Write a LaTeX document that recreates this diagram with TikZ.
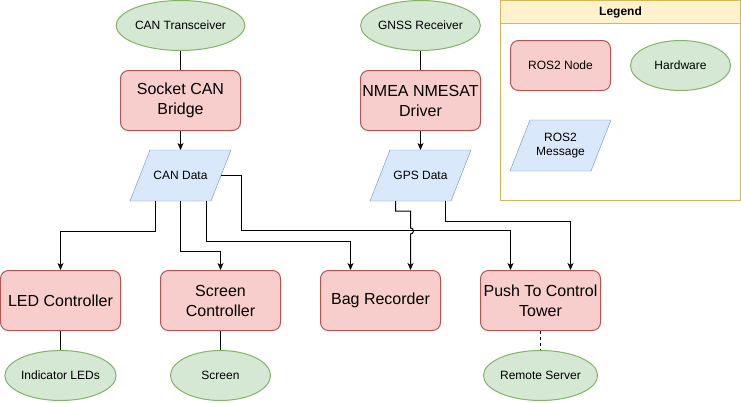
\documentclass[tikz,border=0pt]{standalone}
\usepackage{fontspec}
\setmainfont{Liberation Sans}
\usetikzlibrary{positioning,arrows.meta,backgrounds,shapes.geometric}

\definecolor{nodefill}{HTML}{F8CECC}
\definecolor{nodeline}{HTML}{B85450}
\definecolor{hwfill}{HTML}{D5E8D4}
\definecolor{hwline}{HTML}{82B366}
\definecolor{msgfill}{HTML}{DAE8FC}
\definecolor{msgline}{HTML}{6C8EBF}
\definecolor{legfill}{HTML}{FFF2CC}
\definecolor{legline}{HTML}{D6B656}

\begin{document}
\begin{tikzpicture}[
x=1pt,y=-1pt,
line width=1pt,
rosnode/.style={
  draw=nodeline,
  fill=nodefill,
  rounded corners=8pt,
  minimum width=120pt,
  minimum height=60pt,
  align=center,
  inner sep=1pt,
  font=\fontsize{16}{20}\selectfont
  },
hwnode/.style={
  draw=hwline,
  fill=hwfill,
  ellipse,
  minimum width=100pt,
  minimum height=50pt,
  inner sep=0pt,
  font=\fontsize{12}{14}\selectfont
  },
msgnode/.style={
  minimum width=80pt,
  minimum height=50pt,
  inner sep=0pt,
  align=center,
  font=\fontsize{12}{14}\selectfont
  },
msgshape/.style={
  draw=msgline,
  fill=msgfill
  },
link/.style={-{Stealth[length=7pt,width=6pt,inset=2pt]}}
]
\useasboundingbox (-0.5,-0.5) rectangle (740.5,401.5);
% legend
\draw[legline] (500,0) rectangle (740,200);
\draw[legline,fill=legfill] (500,0) rectangle (740,23);
\node[font=\fontsize{12}{14}\selectfont\bfseries] (legend) at (620,11.5) {Legend};
\node[rosnode,minimum width=100pt,minimum height=50pt,font=\fontsize{12}{14}\selectfont] (lnode) at (560,65) {ROS2 Node};
\node[hwnode] (lhw) at (680,65) {Hardware};
\node[msgnode] (lmsg) at (560,145) {ROS2\\Message};
% top row
\node[hwnode] (cant) at (180,25) {CAN Transceiver};
\node[hwnode] (gnss) at (420,25) {GNSS Receiver};
\node[rosnode] (scb) at (180,100) {Socket CAN\\Bridge};
\node[rosnode] (nmea) at (420,100) {NMEA NMESAT\\Driver};
\node[msgnode] (cdata) at (180,175) {CAN Data};
\node[msgnode] (gdata) at (420,175) {GPS Data};
% bottom row
\node[rosnode] (led) at (60,300) {LED Controller};
\node[rosnode] (scr) at (220,300) {Screen\\Controller};
\node[rosnode] (bag) at (380,300) {Bag Recorder};
\node[rosnode] (push) at (540,300) {Push To Control\\Tower};
\node[hwnode] (leds) at (60,375) {Indicator LEDs};
\node[hwnode] (screen) at (220,375) {Screen};
\node[hwnode] (remote) at (540,375) {Remote Server};

% message shapes behind their text
\begin{scope}[on background layer]
\foreach \Msg in {cdata,gdata,lmsg}
  \draw[msgshape] ([xshift=-10pt]\Msg.south west) -- ([xshift=-10pt]\Msg.south east)
    -- ([xshift=10pt]\Msg.north east) -- ([xshift=10pt]\Msg.north west) -- cycle;
\end{scope}

\draw (cant) -- (scb);
\draw (gnss) -- (nmea);
\draw[link] (scb) -- (cdata);
\draw[link] (nmea) -- (gdata);
\draw[link] ([xshift=-25pt]cdata.south) -- ++(0,30) -| (led);
\draw[link] (cdata.south) -- ++(0,50) -| (scr);
\draw[link] ([xshift=26pt]cdata.south) -- ++(0,40) -| ([xshift=-30pt]bag.north);
\draw[link] (cdata.east) -- ++(20,0) -- ++(0,55) -| ([xshift=-30pt]push.north);
\draw[link] ([xshift=-25pt]gdata.south) -- ++(0,10) -- ++(15,0) -- ++(0,17)
  arc[start angle=-90,end angle=90,radius=3] -- ([xshift=30pt]bag.north);
\draw[link] ([xshift=25pt]gdata.south) -- ++(0,20) -| ([xshift=30pt]push.north);
\draw (led) -- (leds);
\draw (scr) -- (screen);
\draw[dashed] (push) -- (remote);
\end{tikzpicture}
\end{document}
